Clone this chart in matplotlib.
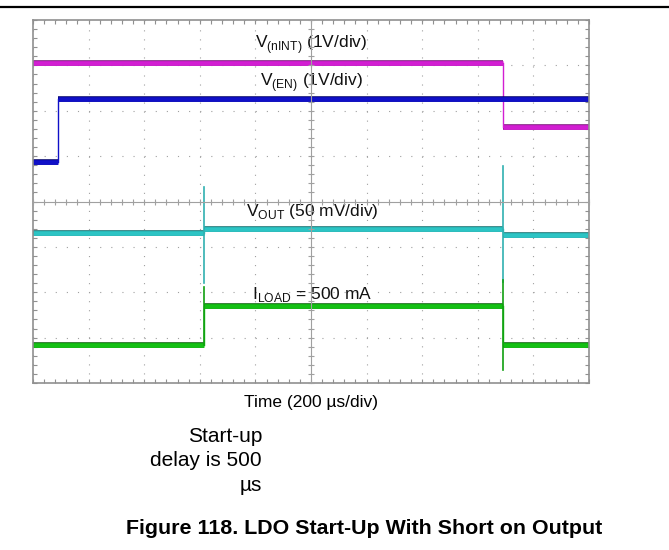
import matplotlib
matplotlib.use('Agg')
import matplotlib.pyplot as plt
import matplotlib.patheffects as pe
from matplotlib.lines import Line2D
from matplotlib.ticker import MultipleLocator

plt.rcParams['font.family'] = ['Liberation Sans', 'DejaVu Sans']
plt.rcParams['mathtext.fontset'] = 'custom'
plt.rcParams['mathtext.rm'] = 'Liberation Sans'
plt.rcParams['lines.scale_dashes'] = False

# scope screen: 10 div x 200 us, 8 div vertical (values in divisions)
t_max = 2000
div_us = 200

# step edges (us) and levels (div) of each trace
nint_edges = [0, 1690, 2000]
nint_levels = [3.05, 1.64]
en_edges = [0, 90, 2000]
en_levels = [0.87, 2.26]
vout_edges = [0, 615, 1690, 2000]
vout_levels = [-0.69, -0.60, -0.73]
iload_edges = [0, 615, 1690, 2000]
iload_levels = [-3.16, -2.31, -3.16]

# switching spikes: time, top, bottom
vout_spikes = [(615, 0.32, -1.80), (1690, 0.78, -1.77)]
iload_spikes = [(615, -1.88, -3.16), (1690, -1.73, -3.71)]


def draw_trace(ax, edges, levels, color, edge_color):
    # flat parts drawn thick like a scope trace, transitions thin
    for i, lev in enumerate(levels):
        ax.plot([edges[i], edges[i + 1]], [lev, lev], color=color, lw=3.4,
                solid_capstyle='butt',
                path_effects=[pe.Stroke(linewidth=4.0, foreground=edge_color), pe.Normal()])
    for i in range(1, len(levels)):
        ax.plot([edges[i], edges[i]], [levels[i - 1], levels[i]], color=color, lw=1.0)


fig = plt.figure(figsize=(6.69, 5.5), dpi=100)
ax = fig.add_axes([33 / 669, 1 - 383 / 550, 556 / 669, 363 / 550])
ax.set_xlim(0, t_max)
ax.set_ylim(-4, 4)

# graticule
ax.xaxis.set_major_locator(MultipleLocator(div_us))
ax.yaxis.set_major_locator(MultipleLocator(1))
ax.xaxis.set_minor_locator(MultipleLocator(div_us / 5))
ax.yaxis.set_minor_locator(MultipleLocator(0.2))
ax.xaxis.grid(True, color='#a0a0a0', linestyle=(0, (0.8, 5.7)), linewidth=0.8)
ax.yaxis.grid(True, color='#a0a0a0', linestyle=(0, (0.8, 7.2)), linewidth=0.8)
ax.tick_params(which='both', direction='in', length=3, color='#909090', width=0.8,
               top=True, right=True, labelbottom=False, labelleft=False)
for s in ax.spines.values():
    s.set_color('#909090')
    s.set_linewidth(1.2)

# center cross with its own ticks
ax2 = fig.add_axes(ax.get_position(), sharex=ax, sharey=ax)
ax2.patch.set_visible(False)
ax2.spines['top'].set_visible(False)
ax2.spines['right'].set_visible(False)
ax2.spines['left'].set_position(('data', t_max / 2))
ax2.spines['bottom'].set_position(('data', 0))
for s in ('left', 'bottom'):
    ax2.spines[s].set_color('#a0a0a0')
    ax2.spines[s].set_linewidth(0.8)
ax2.tick_params(which='both', direction='inout', length=4, color='#a0a0a0', width=0.8,
                labelbottom=False, labelleft=False)

# traces
draw_trace(ax, nint_edges, nint_levels, '#d21ed2', '#7a107a')
draw_trace(ax, en_edges, en_levels, '#1010c8', '#00006a')
draw_trace(ax, vout_edges, vout_levels, '#2cc4c4', '#0f6e6e')
draw_trace(ax, iload_edges, iload_levels, '#14c014', '#056005')
for t, top, bot in vout_spikes:
    ax.plot([t, t], [bot, top], color='#30b0b0', lw=1.2)
for t, top, bot in iload_spikes:
    ax.plot([t, t], [bot, top], color='#10a010', lw=1.2)

# trace labels
lab = dict(ha='center', va='center', fontsize=12.5, color='#111111')
ax.text(1000, 3.45, r'V$_{\rm (nINT)}$ (1V/div)', **lab)
ax.text(1000, 2.63, r'V$_{\rm (EN)}$ (1V/div)', **lab)
ax.text(1005, -0.23, r'V$_{\rm OUT}$ (50 mV/div)', **lab)
ax.text(1005, -2.06, r'I$_{\rm LOAD}$ = 500 mA', **lab)

# outside text
fig.add_artist(Line2D([0, 1], [1 - 7 / 550, 1 - 7 / 550], color='black', lw=1.6))
fig.text(311 / 669, 1 - 402 / 550, 'Time (200 µs/div)', ha='center', va='center',
         fontsize=12.5)
fig.text(262 / 669, 1 - 461 / 550, 'Start-up\ndelay is 500\nµs', ha='right', va='center',
         fontsize=15, linespacing=1.35)
fig.text(364 / 669, 1 - 528 / 550, 'Figure 118. LDO Start-Up With Short on Output',
         ha='center', va='center', fontsize=15.4, fontweight='bold')

fig.savefig('out.png', dpi=100)
